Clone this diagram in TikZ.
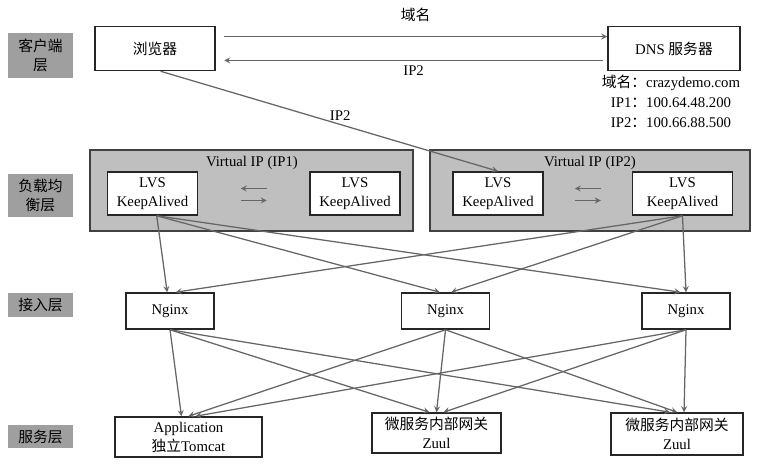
\documentclass[tikz,border=0pt]{standalone}
\usepackage{fontspec}
\setmainfont{Liberation Serif}
\newfontfamily\cjk{Noto Sans CJK SC}
\usetikzlibrary{calc}
\begin{document}
\begin{tikzpicture}[x=0.025cm, y=-0.025cm, font=\fontsize{10.5}{13.5}\selectfont,
    box/.style={draw=black!85, line width=1.1pt, fill=white, align=center, inner sep=0pt},
    layer/.style={fill=gray!75, align=center, inner sep=0pt, minimum width=1.625cm, font=\cjk\fontsize{10.5}{14}\selectfont},
    vip/.style={draw=black!75, line width=1.3pt, fill=gray!50, minimum width=8cm, minimum height=2.025cm},
    link/.style={->, >=stealth, draw=black!60, line width=0.9pt}]
    \useasboundingbox (0,0) rectangle (763,465);
    \node[layer, minimum height=1.125cm] (lcli) at (40.5,55.5) {客户端\\层};
    \node[layer, minimum height=1.075cm] (llb) at (40.5,195.5) {负载均\\衡层};
    \node[layer, minimum height=0.6cm] (lacc) at (40.5,305) {接入层};
    \node[layer, minimum height=0.575cm] (lsvc) at (40.5,436.5) {服务层};

    \node[box, minimum width=3cm, minimum height=1.1cm] (br) at (155,48.5) {\cjk 浏览器};
    \node[box, minimum width=3.3cm, minimum height=1.1cm] (dns) at (674,48.5) {DNS {\cjk 服务器}};
    \node[align=center, font=\fontsize{10.5}{14.2}\selectfont] (info) at (671,101) {{\cjk 域名：}crazydemo.com\\IP1{\cjk ：}100.64.48.200\\IP2{\cjk ：}100.66.88.500};
    \draw[link] ([xshift=6pt,yshift=8.5pt]br.east) -- node[midway,above=7pt,font=\cjk\fontsize{10.5}{13}\selectfont] {域名} ([yshift=8.5pt]dns.west);
    \draw[link] ([xshift=-3pt,yshift=-8.5pt]dns.west) -- node[midway,below] {IP2} ([xshift=6pt,yshift=-8.5pt]br.east);

    \node[vip, minimum width=8.075cm] (vipa) at (251.5,190.5) {};
    \node[vip] (vipb) at (590,190.5) {};
    \node (vipat) at (252,163) {Virtual IP (IP1)};
    \node (vipbt) at (590,163) {Virtual IP (IP2)};
    \foreach \n/\x in {lvs1/152.5, lvs2/355, lvs3/498}
        \node[box, minimum width=2.25cm, minimum height=1.075cm] (\n) at (\x,193.5) {LVS\\KeepAlived};
    \node[box, minimum width=2.5cm, minimum height=1.075cm] (lvs4) at (682.5,193.5) {LVS\\KeepAlived};
    \foreach \a/\b in {lvs1/lvs2, lvs3/lvs4}
    {
        \coordinate (m) at ($(\a.east)!0.5!(\b.west)$);
        \draw[link] ($(m)+(13,-5)$) -- ($(m)+(-13,-5)$);
        \draw[link] ($(m)+(-13,7)$) -- ($(m)+(13,7)$);
    }
    \draw[link] ([xshift=4pt]br.south) -- node[pos=0.5,above right,inner sep=0pt] {IP2} (lvs3.north);

    \foreach \n/\x in {ngx1/170, ngx2/445.5, ngx3/686}
        \node[box, minimum width=2.2cm, minimum height=0.9cm] (\n) at (\x,311) {Nginx};
    \foreach \n/\d in {ngx1/-2pt, ngx2/-4pt, ngx3/-4pt}
        \draw[link] ([xshift=3pt]lvs1.south) -- ([xshift=\d]\n.north);
    \foreach \n/\d in {ngx1/4pt, ngx2/4pt, ngx3/0pt}
        \draw[link] (lvs4.south) -- ([xshift=\d]\n.north);

    \node[box, minimum width=3.675cm, minimum height=1cm] (app) at (188.5,437) {Application\\{\cjk 独立}Tomcat};
    \node[box, minimum width=3.225cm, minimum height=1cm] (zuul1) at (436.5,433) {{\cjk 微服务内部网关}\\Zuul};
    \node[box, minimum width=3.3cm, minimum height=1.05cm] (zuul2) at (677,434) {{\cjk 微服务内部网关}\\Zuul};
    \foreach \s in {app, zuul1, zuul2}
        \foreach \n/\d in {ngx1/-5pt, ngx2/0pt, ngx3/5pt}
            \draw[link] (\n.south) -- ([xshift=\d]\s.north);
\end{tikzpicture}
\end{document}
